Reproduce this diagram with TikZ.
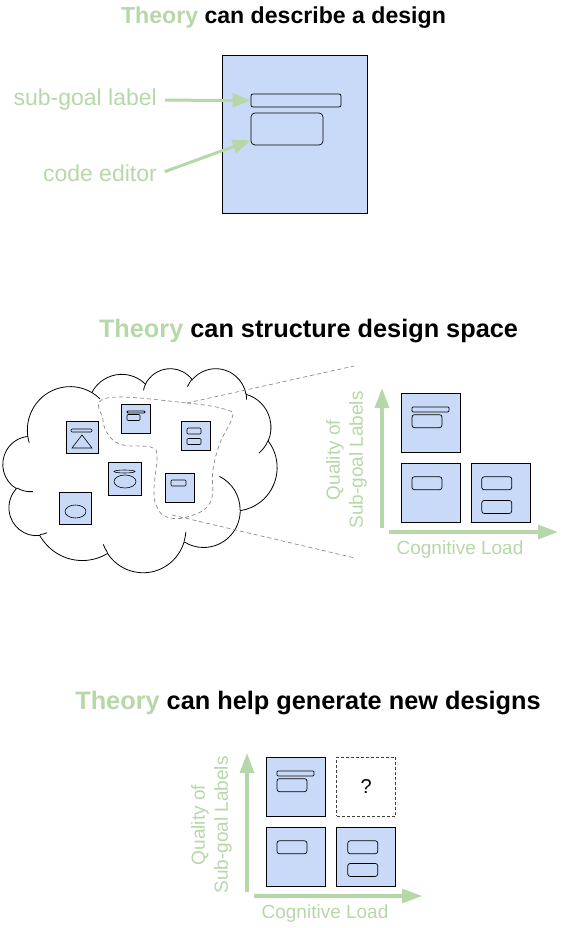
\documentclass[tikz,border=0pt]{standalone}
\usepackage{fontspec}
\setmainfont{Liberation Sans}
\usepackage{xcolor}
\definecolor{colorTheory}{HTML}{B6D7A8}
\definecolor{colorDesign}{HTML}{C9DAF8}
\definecolor{colorRegion}{HTML}{8C8C8C}
\usepackage{tikz}
\usetikzlibrary{arrows.meta, positioning, shapes.geometric}
\tikzset{
  design/.style={draw, fill=colorDesign, line width=0.8pt, minimum size=59pt, inner sep=0pt},
  thumb/.style={design, minimum size=29pt},
  labelbar/.style={draw, rounded corners=1pt, line width=0.7pt, minimum width=37pt, minimum height=5pt, inner sep=0pt},
  field/.style={draw, rounded corners=2.5pt, line width=0.7pt, minimum width=30pt, minimum height=13pt, inner sep=0pt},
  mini/.style={draw, rounded corners=1pt, line width=0.6pt, inner sep=0pt},
  open/.style={draw=black!75, dashed, dash pattern=on 3pt off 2pt, line width=0.8pt, minimum size=59pt, inner sep=0pt},
  headline/.style={font=\bfseries\fontsize{25.3}{30}\selectfont},
  axisarrow/.style={colorTheory, line width=3.3pt, -{Triangle[length=20pt, width=14pt]}},
  axislabel/.style={text=colorTheory, font=\fontsize{19}{23}\selectfont, align=center},
  pointer/.style={colorTheory, line width=3pt, shorten <=4pt, -{Triangle[length=18pt, width=14pt]}},
  region/.style={colorRegion, dashed, dash pattern=on 4pt off 3pt, line width=0.7pt},
}
% puff angles: x radius, y radius, start, sweep (seen from the centre)
\newcommand\puff[4]{%
  \pgfmathsetmacro\puffstart{atan2(#1*sin(#3),#2*cos(#3))}%
  \pgfmathsetmacro\puffend{atan2(#1*sin(#3+#4),#2*cos(#3+#4))}%
  \pgfmathsetmacro\puffsweep{mod(\puffend-\puffstart+720,360)}%
}

\begin{document}
\begin{tikzpicture}[x=1pt, y=-1pt]
\useasboundingbox (0,0) rectangle (568,928);

% describe a design
\node[headline, font=\bfseries\fontsize{23.1}{28}\selectfont] (t0) at (283.5,18) {\textcolor{colorTheory}{Theory} can describe a design};
\node[design, minimum width=145pt, minimum height=158pt] (d0) at (294.5,134) {};
\node[labelbar, minimum width=90pt, minimum height=13pt, rounded corners=2pt] (d0bar) at (296,100.5) {};
\node[field, minimum width=72pt, minimum height=32pt, rounded corners=4pt] (d0field) at (287,129) {};
\node[axislabel, font=\fontsize{23}{27}\selectfont, inner sep=4pt, anchor=east] (l0) at (161,100) {sub-goal label};
\node[axislabel, font=\fontsize{23}{27}\selectfont, inner sep=4pt, anchor=east] (l1) at (161,173) {code editor};
\draw[pointer] (l0) -- (d0bar);
\draw[pointer] (l1.east) -- ([yshift=5pt]d0field.south west);

% structure design space
\node[headline] (t1) at (308.5,331) {\textcolor{colorTheory}{Theory} can structure design space};
\begin{scope}[shift={(3,368)}, xscale=0.063426, yscale=0.047222, line width=0.8pt]
\draw[fill=white] (390,1437)
  \pgfextra{\puff{675.3}{919.0}{-190.4875}{123.7805}} arc[start angle=\puffstart, delta angle=\puffsweep, x radius=675.3, y radius=919.0]
  \pgfextra{\puff{533.3}{726.7}{-144.1024}{89.9452}} arc[start angle=\puffstart, delta angle=\puffsweep, x radius=533.3, y radius=726.7]
  \pgfextra{\puff{436.5}{594.5}{-145.8079}{99.7230}} arc[start angle=\puffstart, delta angle=\puffsweep, x radius=436.5, y radius=594.5]
  \pgfextra{\puff{485.7}{659.5}{-130.9861}{117.2417}} arc[start angle=\puffstart, delta angle=\puffsweep, x radius=485.7, y radius=659.5]
  \pgfextra{\puff{533.3}{727.3}{-78.7089}{109.0269}} arc[start angle=\puffstart, delta angle=\puffsweep, x radius=533.3, y radius=727.3]
  \pgfextra{\puff{677.5}{922.0}{-46.2673}{130.2690}} arc[start angle=\puffstart, delta angle=\puffsweep, x radius=677.5, y radius=922.0]
  \pgfextra{\puff{578.5}{786.7}{0.6250}{114.0333}} arc[start angle=\puffstart, delta angle=\puffsweep, x radius=578.5, y radius=786.7]
  \pgfextra{\puff{675.2}{921.5}{22.4516}{115.1726}} arc[start angle=\puffstart, delta angle=\puffsweep, x radius=675.2, y radius=921.5]
  \pgfextra{\puff{772.0}{1054.3}{66.2426}{75.7110}} arc[start angle=\puffstart, delta angle=\puffsweep, x radius=772.0, y radius=1054.3]
  \pgfextra{\puff{436.0}{591.8}{-274.9421}{146.7356}} arc[start angle=\puffstart, delta angle=\puffsweep, x radius=436.0, y radius=591.8]
  \pgfextra{\puff{434.5}{594.5}{-246.8285}{152.5170}} arc[start angle=\puffstart, delta angle=\puffsweep, x radius=434.5, y radius=594.5]
  -- cycle;
\draw (469.3,2617.7) \pgfextra{\puff{434.5}{594.5}{86.7420}{26.4295}} arc[start angle=\puffstart, delta angle=\puffsweep, x radius=434.5, y radius=594.5]
  (692.8,3489.9) \pgfextra{\puff{436.0}{591.8}{73.6105}{11.4475}} arc[start angle=\puffstart, delta angle=\puffsweep, x radius=436.0, y radius=591.8]
  (1647.8,3909.0) \pgfextra{\puff{675.2}{921.5}{137.6242}{14.0811}} arc[start angle=\puffstart, delta angle=\puffsweep, x radius=675.2, y radius=921.5]
  (2882.7,3475.1) \pgfextra{\puff{675.2}{921.5}{6.4533}{15.9984}} arc[start angle=\puffstart, delta angle=\puffsweep, x radius=675.2, y radius=921.5]
  (3412.9,2295.4) \pgfextra{\puff{578.5}{786.7}{-70.2924}{70.9174}} arc[start angle=\puffstart, delta angle=\puffsweep, x radius=578.5, y radius=786.7]
  (4179.8,1535.4) \pgfextra{\puff{533.3}{727.3}{30.3180}{27.7515}} arc[start angle=\puffstart, delta angle=\puffsweep, x radius=533.3, y radius=727.3]
  (3832.4,542.6) \pgfextra{\puff{485.7}{659.5}{-13.7443}{14.8589}} arc[start angle=\puffstart, delta angle=\puffsweep, x radius=485.7, y radius=659.5]
  (2907.8,395.2) \pgfextra{\puff{485.7}{659.5}{-149.1815}{18.1954}} arc[start angle=\puffstart, delta angle=\puffsweep, x radius=485.7, y radius=659.5]
  (2214.1,472.0) \pgfextra{\puff{436.5}{594.5}{-163.4943}{17.6864}} arc[start angle=\puffstart, delta angle=\puffsweep, x radius=436.5, y radius=594.5]
  (1400.0,519.2) \pgfextra{\puff{675.3}{919.0}{-66.7070}{12.3194}} arc[start angle=\puffstart, delta angle=\puffsweep, x radius=675.3, y radius=919.0]
  (412.7,1578.9) \pgfextra{\puff{675.3}{919.0}{157.6544}{11.8582}} arc[start angle=\puffstart, delta angle=\puffsweep, x radius=675.3, y radius=919.0];
\end{scope}
\draw[region] plot[smooth cycle, tension=0.7] coordinates {(107,398) (187,403) (227,410) (232,418) (220,443) (213,470) (210,503) (187,517) (167,517) (157,507) (154,490) (157,457) (153,448) (140,446) (123,445) (110,437) (103,420)};
\coordinate (r0) at (187,403);
\coordinate (r1) at (354,366);
\coordinate (r2) at (172,515);
\coordinate (r3) at (355,558);
\draw[region] (r0) -- (r1);
\draw[region] (r2) -- (r3);

\node[thumb, minimum size=32pt] (c0) at (82,437.5) {};
\node[mini, minimum width=21pt, minimum height=3pt] (c0bar) at (81.5,430.5) {};
\draw[line width=0.6pt] (72,448) -- (92,448) -- (82,435) -- cycle;
\node[thumb] (c1) at (135.5,418.5) {};
\node[mini, line width=0.9pt, minimum width=18pt, minimum height=2pt] (c1bar) at (136,412) {};
\node[mini, minimum width=13pt, minimum height=6pt] (c1field) at (133.5,417.5) {};
\node[thumb] (c2) at (195.5,435.5) {};
\node[mini, minimum width=14pt, minimum height=6pt] (c2field0) at (194,431) {};
\node[mini, minimum width=14pt, minimum height=6pt] (c2field1) at (194,441.5) {};
\node[thumb, minimum size=33pt] (c3) at (124.5,478.5) {};
\node[ellipse, draw, line width=0.6pt, inner sep=0pt, minimum width=21pt, minimum height=3pt] (c3bar) at (124.5,471.5) {};
\node[ellipse, draw, line width=0.6pt, inner sep=0pt, minimum width=22pt, minimum height=13pt] (c3field) at (125,481.5) {};
\node[thumb] (c4) at (179.5,487.5) {};
\node[mini, minimum width=15pt, minimum height=6pt] (c4field) at (178.5,483) {};
\node[thumb, minimum size=32pt] (c5) at (75.5,508) {};
\node[ellipse, draw, line width=0.6pt, inner sep=0pt, minimum width=21pt, minimum height=13pt] (c5field) at (75.5,511.5) {};

\node[design] (p0) at (430.5,422.5) {};
\node[design, below=11pt of p0] (p1) {};
\node[design, right=11pt of p1] (p2) {};
\node[labelbar, below=14pt of p0.north] (p0bar) {};
\node[field, below=2pt of p0bar.south west, anchor=north west] (p0field) {};
\node[field, below right=13pt and 11pt of p1.north west] (p1field) {};
\node[field, below right=13pt and 10pt of p2.north west] (p2field0) {};
\node[field, below=10pt of p2field0] (p2field1) {};
\coordinate (py0) at (382,528);
\coordinate (py1) at (382,388);
\coordinate (px0) at (389,532);
\coordinate (px1) at (558,532);
\draw[axisarrow] (py0) -- (py1);
\draw[axisarrow] (px0) -- (px1);
\node[axislabel, rotate=90] (pyl) at (346.5,460) {Quality of\\Sub-goal Labels};
\node[axislabel] (pxl) at (460,550) {Cognitive Load};

% generate new designs
\node[headline] (t2) at (308,703) {\textcolor{colorTheory}{Theory} can help generate new designs};
\node[design] (q0) at (295.5,786.5) {};
\node[open, right=11pt of q0, font=\fontsize{20}{24}\selectfont] (qx) {?};
\node[design, below=11pt of q0] (q1) {};
\node[design, right=11pt of q1] (q2) {};
\node[labelbar, below=14pt of q0.north] (q0bar) {};
\node[field, below=2pt of q0bar.south west, anchor=north west] (q0field) {};
\node[field, below right=13pt and 11pt of q1.north west] (q1field) {};
\node[field, below right=13pt and 11pt of q2.north west] (q2field0) {};
\node[field, below=9pt of q2field0] (q2field1) {};
\coordinate (qy0) at (247,892);
\coordinate (qy1) at (247,753);
\coordinate (qx0) at (254,896);
\coordinate (qx1) at (422,896);
\draw[axisarrow] (qy0) -- (qy1);
\draw[axisarrow] (qx0) -- (qx1);
\node[axislabel, rotate=90] (qyl) at (211.5,825) {Quality of\\Sub-goal Labels};
\node[axislabel] (qxl) at (325,914) {Cognitive Load};
\end{tikzpicture}
\end{document}
